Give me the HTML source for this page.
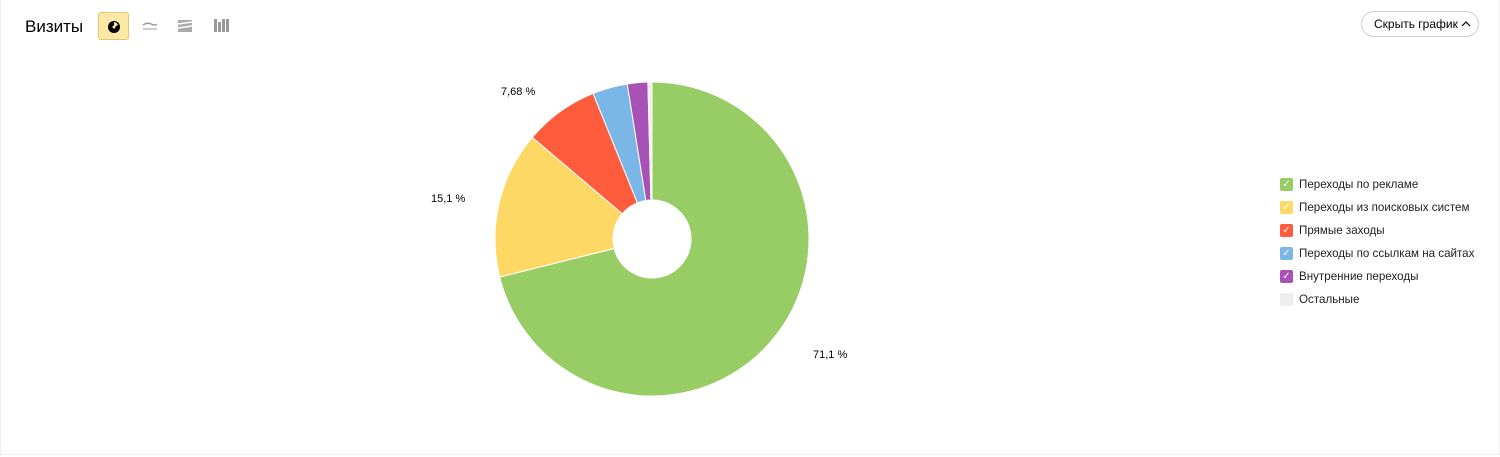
<!DOCTYPE html>
<html><head><meta charset="utf-8"><style>
body{margin:0;width:1500px;height:457px;background:#fff;font-family:"Liberation Sans",sans-serif;position:relative;overflow:hidden}
.frame{position:absolute;left:0;top:0;width:1498px;height:454px;border:1px solid #eef0f3;border-top:none}
.title{position:absolute;left:25px;top:17px;font-size:17px;color:#000}
.btn{position:absolute;top:12px;width:31px;height:28px;border-radius:3px}
.act{left:98px;background:#fde9a5;border:1px solid #e6c770;box-sizing:border-box}
.hide{position:absolute;left:1361px;top:11px;width:118px;height:26px;border:1px solid #ccc;border-radius:14px;box-sizing:border-box;font-size:12px;line-height:24px;padding-left:12px;color:#000;white-space:nowrap}
.lg{position:absolute;left:1280px;font-size:11.6px;color:#222;white-space:nowrap}
.lg span{position:absolute;left:0;top:1px;width:13px;height:13px;border-radius:2px;color:#fff;font-size:10px;line-height:13px;text-align:center}
.lg div{margin-left:19px;line-height:15px}
.lab{position:absolute;font-size:11px;color:#000}
</style></head><body>
<div class="frame"></div>
<div class="title">Визиты</div>
<div class="btn act"><svg width="31" height="28"><circle cx="15" cy="14" r="6" fill="#000"/><path d="M15 14 L15 9 A5 5 0 0 1 19 12 Z" fill="#fde9a5"/><circle cx="15" cy="14" r="1.5" fill="#fde9a5"/></svg></div>
<svg style="position:absolute;left:140px;top:18px" width="100" height="18">
<path d="M3 7 Q7 4 11 6 T17 6" stroke="#999" fill="none" stroke-width="1.5"/><line x1="3" y1="11" x2="17" y2="11" stroke="#bbb" stroke-width="1.5"/>
<rect x="38" y="2" width="14" height="12" fill="#aaa"/><path d="M38 6 L52 4 M38 10 L52 8" stroke="#fff" stroke-width="1.5"/>
<rect x="74" y="1" width="3" height="13" fill="#999"/><rect x="78" y="4" width="3" height="10" fill="#999"/><rect x="82" y="1" width="3" height="13" fill="#999"/><rect x="86" y="1" width="3" height="13" fill="#999"/>
</svg>
<div class="hide">Скрыть график <svg width="10" height="8" style="vertical-align:0px"><path d="M1 6 L5 2 L9 6" stroke="#000" fill="none" stroke-width="1.2"/></svg></div>
<svg id="pie" style="position:absolute;left:0;top:0" width="1500" height="457"></svg>
<div class="lab" style="left:501px;top:86px">7,68 %</div>
<div class="lab" style="left:431px;top:193px">15,1 %</div>
<div class="lab" style="left:813px;top:349px">71,1 %</div>
<div class="lg" style="top:177px"><span style="background:#98cc64">✓</span><div>Переходы по рекламе</div></div>
<div class="lg" style="top:200px"><span style="background:#fdd865">✓</span><div>Переходы из поисковых систем</div></div>
<div class="lg" style="top:223px"><span style="background:#fe5c3d">✓</span><div>Прямые заходы</div></div>
<div class="lg" style="top:246px"><span style="background:#7ab6e6">✓</span><div>Переходы по ссылкам на сайтах</div></div>
<div class="lg" style="top:269px"><span style="background:#a752b4">✓</span><div>Внутренние переходы</div></div>
<div class="lg" style="top:292px"><span style="background:#eeeeee"></span><div>Остальные</div></div>
<script>
var d=[[71.1,"#98cc64"],[15.1,"#fdd865"],[7.68,"#fe5c3d"],[3.6,"#7ab6e6"],[2.1,"#a752b4"],[0.42,"#eeeeee"]];
var cx=652,cy=239,R=157,r=39,a=0,s="";
function p(ang,rad){var t=ang/100*2*Math.PI;return (cx+rad*Math.sin(t)).toFixed(2)+" "+(cy-rad*Math.cos(t)).toFixed(2);}
d.forEach(function(e){var b=a+e[0],L=e[0]>50?1:0;
s+='<path d="M'+p(a,r)+' L'+p(a,R)+' A'+R+' '+R+' 0 '+L+' 1 '+p(b,R)+' L'+p(b,r)+' A'+r+' '+r+' 0 '+L+' 0 '+p(a,r)+' Z" fill="'+e[1]+'" stroke="#fff" stroke-width="1"/>';a=b;});
document.getElementById("pie").innerHTML=s;
</script>
</body></html>
